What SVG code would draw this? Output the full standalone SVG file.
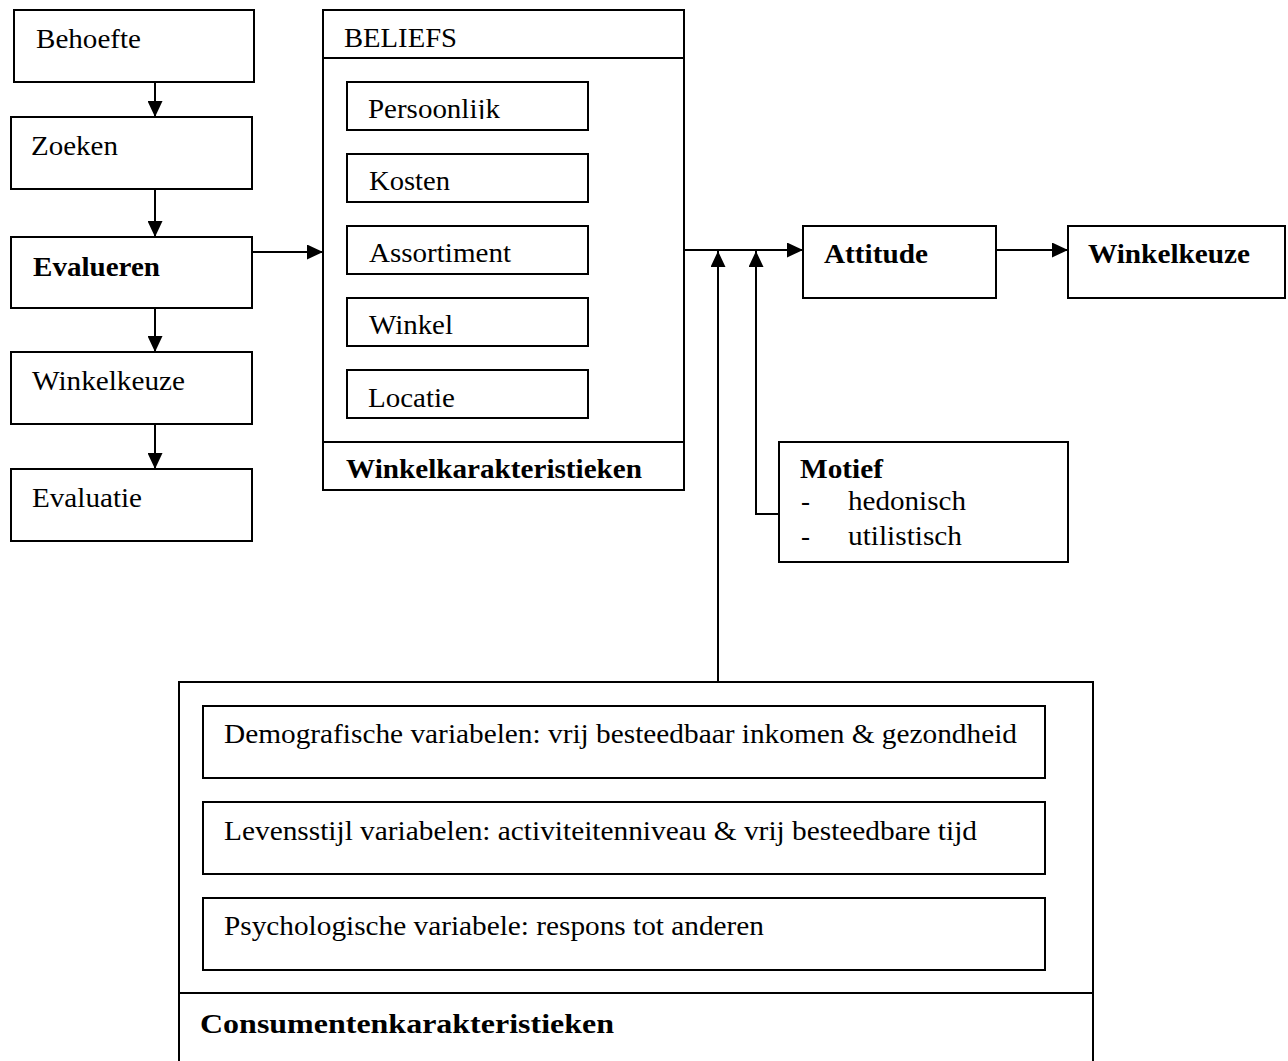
<svg xmlns="http://www.w3.org/2000/svg" width="1288" height="1061" viewBox="0 0 1288 1061">
<style>
rect{fill:#fff;stroke:#000;stroke-width:2}
line.d{stroke:#000;stroke-width:2;fill:none}
text{font-family:'Liberation Serif',Tinos,'Times New Roman',Times,serif;font-size:27px;fill:#000}
.b{font-weight:bold}
.c line,.c path{stroke:#000;stroke-width:2;fill:none}
</style>
<defs>
<marker id="ah" markerUnits="userSpaceOnUse" markerWidth="16" markerHeight="15" refX="16" refY="7.5" orient="auto">
<path d="M0,0 L16,7.5 L0,15 z" fill="#000"/>
</marker>
<clipPath id="clipP"><rect x="340" y="80" width="260" height="39"/></clipPath>
</defs>
<rect x="-10" y="-10" width="1310" height="1090" style="stroke:none;fill:#fff"/>

<g id="behoefte"><rect x="14" y="10" width="240" height="72"/><text x="36" y="48" textLength="105" lengthAdjust="spacingAndGlyphs">Behoefte</text></g>
<g id="zoeken"><rect x="11" y="117" width="241" height="72"/><text x="31" y="155" textLength="87" lengthAdjust="spacingAndGlyphs">Zoeken</text></g>
<g id="evalueren"><rect x="11" y="237" width="241" height="71"/><text class="b" x="33" y="276" textLength="127" lengthAdjust="spacingAndGlyphs">Evalueren</text></g>
<g id="winkelkeuze1"><rect x="11" y="352" width="241" height="72"/><text x="32" y="390" textLength="153" lengthAdjust="spacingAndGlyphs">Winkelkeuze</text></g>
<g id="evaluatie"><rect x="11" y="469" width="241" height="72"/><text x="32" y="507" textLength="110" lengthAdjust="spacingAndGlyphs">Evaluatie</text></g>

<g id="beliefs">
<rect x="323" y="10" width="361" height="480"/>
<line class="d" x1="323" y1="58" x2="684" y2="58"/>
<line class="d" x1="323" y1="442" x2="684" y2="442"/>
<text x="344" y="47" textLength="113" lengthAdjust="spacingAndGlyphs">BELIEFS</text>
<text class="b" x="346" y="478" textLength="296" lengthAdjust="spacingAndGlyphs">Winkelkarakteristieken</text>
</g>
<g id="persoonlijk"><rect x="347" y="82" width="241" height="48"/><text x="368" y="118" textLength="132" lengthAdjust="spacingAndGlyphs" clip-path="url(#clipP)">Persoonlijk</text></g>
<g id="kosten"><rect x="347" y="154" width="241" height="48"/><text x="369" y="190" textLength="81" lengthAdjust="spacingAndGlyphs">Kosten</text></g>
<g id="assortiment"><rect x="347" y="226" width="241" height="48"/><text x="369" y="262" textLength="142" lengthAdjust="spacingAndGlyphs">Assortiment</text></g>
<g id="winkel"><rect x="347" y="298" width="241" height="48"/><text x="369" y="334" textLength="84" lengthAdjust="spacingAndGlyphs">Winkel</text></g>
<g id="locatie"><rect x="347" y="370" width="241" height="48"/><text x="368" y="407" textLength="87" lengthAdjust="spacingAndGlyphs">Locatie</text></g>

<g id="attitude"><rect x="803" y="226" width="193" height="72"/><text class="b" x="824" y="263" textLength="104" lengthAdjust="spacingAndGlyphs">Attitude</text></g>
<g id="winkelkeuze2"><rect x="1068" y="226" width="217" height="72"/><text class="b" x="1088" y="263" textLength="162" lengthAdjust="spacingAndGlyphs">Winkelkeuze</text></g>

<g id="motief">
<rect x="779" y="442" width="289" height="120"/>
<text class="b" x="800" y="478" textLength="83" lengthAdjust="spacingAndGlyphs">Motief</text>
<text x="801" y="510">-</text><text x="848" y="510" textLength="118" lengthAdjust="spacingAndGlyphs">hedonisch</text>
<text x="801" y="545">-</text><text x="848" y="545" textLength="114" lengthAdjust="spacingAndGlyphs">utilistisch</text>
</g>

<g id="consumenten">
<rect x="179" y="682" width="914" height="400"/>
<line class="d" x1="179" y1="993" x2="1093" y2="993"/>
<text class="b" x="200" y="1033" textLength="414" lengthAdjust="spacingAndGlyphs">Consumentenkarakteristieken</text>
</g>
<g id="demografisch"><rect x="203" y="706" width="842" height="72"/><text x="224" y="743" textLength="793" lengthAdjust="spacingAndGlyphs">Demografische variabelen: vrij besteedbaar inkomen &amp; gezondheid</text></g>
<g id="levensstijl"><rect x="203" y="802" width="842" height="72"/><text x="224" y="840" textLength="753" lengthAdjust="spacingAndGlyphs">Levensstijl variabelen: activiteitenniveau &amp; vrij besteedbare tijd</text></g>
<g id="psychologisch"><rect x="203" y="898" width="842" height="72"/><text x="224" y="935" textLength="540" lengthAdjust="spacingAndGlyphs">Psychologische variabele: respons tot anderen</text></g>

<g id="connectors" class="c">
<line x1="155" y1="82" x2="155" y2="117" marker-end="url(#ah)"/>
<line x1="155" y1="189" x2="155" y2="237" marker-end="url(#ah)"/>
<line x1="155" y1="308" x2="155" y2="352" marker-end="url(#ah)"/>
<line x1="155" y1="424" x2="155" y2="469" marker-end="url(#ah)"/>
<line x1="252" y1="252" x2="323" y2="252" marker-end="url(#ah)"/>
<line x1="684" y1="250" x2="803" y2="250" marker-end="url(#ah)"/>
<line x1="996" y1="250" x2="1068" y2="250" marker-end="url(#ah)"/>
<line x1="718" y1="682" x2="718" y2="251" marker-end="url(#ah)"/>
<path d="M779,514 H756 V251" marker-end="url(#ah)"/>
</g>
</svg>
